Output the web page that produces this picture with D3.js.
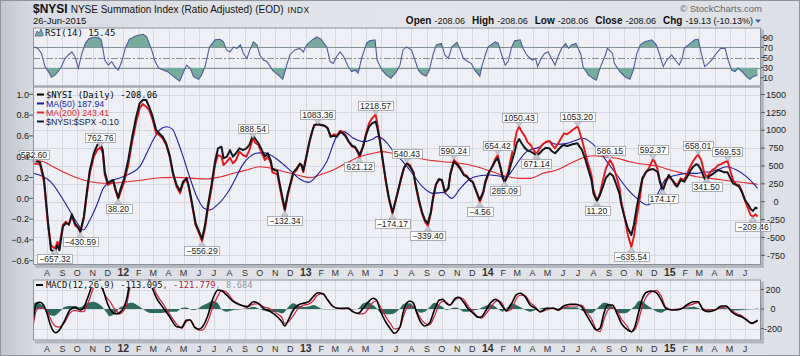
<!DOCTYPE html>
<html><head><meta charset="utf-8">
<script src="https://cdn.jsdelivr.net/npm/d3@7"></script>
<style>
html,body{margin:0;padding:0;background:#fff;}
svg{display:block;font-family:Arial,"Liberation Sans",sans-serif;}
</style></head><body>
<svg id="c" width="800" height="356"></svg>
<script>
// ---------------- DATA ----------------
const nysiDates = [
"2011-07-06","2011-07-18","2011-07-26","2011-08-03","2011-08-09","2011-08-17","2011-08-22","2011-08-26","2011-09-02","2011-09-08","2011-09-14","2011-09-20","2011-09-26","2011-10-03","2011-10-07","2011-10-14","2011-10-20","2011-10-26","2011-11-03","2011-11-10","2011-11-16","2011-11-21","2011-11-25","2011-12-01","2011-12-07","2011-12-12","2011-12-16","2011-12-22","2011-12-27",
"2012-01-03","2012-01-11","2012-01-19","2012-01-27","2012-02-03","2012-02-09","2012-02-16","2012-02-22","2012-02-29","2012-03-07","2012-03-13","2012-03-20","2012-03-27","2012-04-03","2012-04-10","2012-04-17","2012-04-24","2012-04-30","2012-05-07","2012-05-11","2012-05-18","2012-05-25","2012-06-01","2012-06-07","2012-06-13","2012-06-19","2012-06-26","2012-07-03","2012-07-09","2012-07-16","2012-07-20","2012-07-27","2012-08-02","2012-08-08","2012-08-14","2012-08-21","2012-08-28","2012-09-04","2012-09-10","2012-09-17","2012-09-21","2012-09-28","2012-10-05","2012-10-11","2012-10-17","2012-10-23","2012-10-26","2012-11-05","2012-11-09","2012-11-15","2012-11-20","2012-11-26","2012-12-03","2012-12-07","2012-12-14","2012-12-20","2012-12-24","2012-12-27",
"2013-01-02","2013-01-08","2013-01-14","2013-01-18","2013-01-25","2013-02-01","2013-02-08","2013-02-14","2013-02-20","2013-02-26","2013-03-05","2013-03-11","2013-03-15","2013-03-22","2013-03-28","2013-04-04","2013-04-10","2013-04-16","2013-04-19","2013-04-26","2013-05-02","2013-05-08","2013-05-14","2013-05-21","2013-05-24","2013-05-30","2013-06-05","2013-06-11","2013-06-17","2013-06-24","2013-06-28","2013-07-05","2013-07-11","2013-07-17","2013-07-23","2013-07-29","2013-08-05","2013-08-09","2013-08-16","2013-08-22","2013-08-28","2013-09-03","2013-09-09","2013-09-13","2013-09-19","2013-09-25","2013-10-01","2013-10-07","2013-10-14","2013-10-18","2013-10-25","2013-11-01","2013-11-08","2013-11-14","2013-11-20","2013-11-26","2013-12-02","2013-12-09","2013-12-16","2013-12-23","2013-12-27",
"2014-01-03","2014-01-10","2014-01-16","2014-01-21","2014-01-27","2014-01-31","2014-02-04","2014-02-11","2014-02-17","2014-02-24","2014-02-28","2014-03-05","2014-03-10","2014-03-17","2014-03-21","2014-03-28","2014-04-03","2014-04-09","2014-04-15","2014-04-21","2014-04-28","2014-05-05","2014-05-09","2014-05-16","2014-05-22","2014-05-28","2014-06-03","2014-06-09","2014-06-16","2014-06-20","2014-06-30","2014-07-03","2014-07-09","2014-07-15","2014-07-21","2014-07-28","2014-08-01","2014-08-08","2014-08-14","2014-08-20","2014-08-26","2014-09-03","2014-09-09","2014-09-15","2014-09-22","2014-09-26","2014-10-03","2014-10-09","2014-10-16","2014-10-21","2014-10-27","2014-11-03","2014-11-07","2014-11-14","2014-11-20","2014-11-28","2014-12-02","2014-12-08","2014-12-12","2014-12-18","2014-12-24","2014-12-30",
"2015-01-06","2015-01-12","2015-01-16","2015-01-23","2015-01-30","2015-02-05","2015-02-11","2015-02-17","2015-02-23","2015-02-27","2015-03-05","2015-03-11","2015-03-16","2015-03-20","2015-03-27","2015-04-02","2015-04-08","2015-04-14","2015-04-20","2015-04-27","2015-05-01","2015-05-08","2015-05-14","2015-05-20","2015-05-26","2015-06-01","2015-06-08","2015-06-12","2015-06-17","2015-06-22","2015-06-26"];
const nysiValues = [
532.60,523,280,-326,-606,-657.32,-560,-606,-326,-280,-326,-196,-326,-372,-430.59,-233,94,397,630,723,762.76,677,373,234,257,280,164,38.20,140,
280,513,840,1119,1307,1366,1329,1283,1143,957,933,887,793,630,373,210,117,257,318,210,-46,-326,-442,-556.29,-372,-93,187,513,653,630,513,560,616,537,583,700,653,630,723,888.54,830,793,677,583,630,537,411,383,234,24,-132.34,94,280,397,443,523,490,411,
607,816,980,1063,1083.36,1073,1063,1027,910,943,933,993,980,933,840,770,756,677,621.12,770,957,1097,1167,1218.57,1119,840,537,257,24,-174.17,-46,140,304,467,540.43,513,411,234,0,-162,-280,-339.40,-162,24,234,304,304,131,187,397,590.24,537,467,383,364,304,280,140,-4.56,117,257,
397,490,597,654.42,467,336,285.09,420,630,840,980,1050.43,980,910,840,793,723,671.14,747,803,840,849,803,747,816,887,957,943,980,1003,1053.20,1003,863,700,537,373,164,11.20,117,304,467,586.15,513,373,210,0,-233,-466,-635.54,-489,-210,94,304,411,467,592.37,560,443,304,174.17,271,350,
304,257,234,327,304,397,490,569,630,658.01,583,411,341.50,383,443,467,513,523,551,569.53,467,304,243,234,140,10,-116,-186,-209.46,-176,-208.06];
const ratioValues = [
0.36,0.346,0.19,-0.225,-0.497,-0.513,-0.45,-0.50,-0.273,-0.238,-0.25,-0.154,-0.24,-0.283,-0.32,-0.177,0.064,0.272,0.433,0.513,0.529,0.464,0.256,0.144,0.166,0.176,0.096,0.006,0.096,
0.192,0.368,0.592,0.785,0.913,0.945,0.945,0.88,0.785,0.657,0.625,0.592,0.529,0.416,0.24,0.128,0.07,0.16,0.192,0.128,-0.048,-0.24,-0.32,-0.39,-0.257,-0.064,0.128,0.352,0.48,0.496,0.385,0.4,0.464,0.4,0.433,0.48,0.464,0.48,0.513,0.609,0.577,0.529,0.464,0.4,0.433,0.359,0.282,0.263,0.16,0.015,-0.103,0.048,0.176,0.25,0.288,0.333,0.32,0.263,
0.4,0.538,0.647,0.705,0.712,0.705,0.698,0.673,0.592,0.6,0.595,0.64,0.63,0.595,0.545,0.506,0.493,0.448,0.416,0.5,0.609,0.689,0.721,0.737,0.689,0.545,0.352,0.16,0.0,-0.135,-0.064,0.07,0.192,0.294,0.336,0.304,0.25,0.144,-0.016,-0.129,-0.209,-0.24,-0.129,0.0,0.134,0.186,0.176,0.064,0.096,0.23,0.352,0.32,0.272,0.224,0.208,0.176,0.154,0.07,-0.016,0.064,0.16,
0.25,0.304,0.359,0.385,0.288,0.198,0.154,0.23,0.336,0.448,0.529,0.57,0.529,0.48,0.464,0.448,0.433,0.41,0.433,0.464,0.487,0.48,0.455,0.433,0.464,0.496,0.513,0.503,0.513,0.519,0.529,0.506,0.464,0.385,0.288,0.176,0.048,-0.026,0.032,0.112,0.198,0.24,0.217,0.144,0.048,-0.064,-0.192,-0.288,-0.353,-0.257,-0.08,0.096,0.192,0.25,0.272,0.282,0.272,0.25,0.16,0.07,0.16,0.224,
0.176,0.128,0.112,0.176,0.16,0.208,0.263,0.304,0.327,0.32,0.272,0.198,0.16,0.208,0.23,0.25,0.272,0.263,0.25,0.25,0.208,0.144,0.128,0.112,0.058,-0.016,-0.064,-0.103,-0.122,-0.09,-0.10];

const ma50Dates = [
"2011-07-05","2011-08-08","2011-09-09","2011-09-29","2011-10-13","2011-10-26","2011-11-09","2011-11-22","2011-12-05","2011-12-23",
"2012-01-09","2012-01-20","2012-02-03","2012-02-17","2012-03-01","2012-03-14","2012-03-28","2012-04-09","2012-04-17","2012-04-30","2012-05-14","2012-05-29","2012-06-11","2012-06-22","2012-07-06","2012-07-19","2012-08-02","2012-08-15","2012-08-28","2012-09-11","2012-09-24","2012-10-08","2012-10-22","2012-11-09","2012-11-30","2012-12-20",
"2013-01-07","2013-01-23","2013-02-12","2013-03-04","2013-03-18","2013-04-05","2013-04-26","2013-05-16","2013-05-24","2013-06-12","2013-06-25","2013-07-15","2013-08-05","2013-08-23","2013-09-13","2013-10-04","2013-10-21","2013-11-06","2013-11-26","2013-12-16",
"2014-01-06","2014-01-27","2014-02-07","2014-02-21","2014-03-07","2014-03-20","2014-04-16","2014-05-02","2014-05-19","2014-06-09","2014-06-27","2014-07-11","2014-07-25","2014-08-08","2014-08-28","2014-09-17","2014-10-07","2014-10-27","2014-11-17","2014-11-28","2014-12-12","2014-12-24",
"2015-01-15","2015-02-04","2015-02-24","2015-03-09","2015-03-23","2015-04-06","2015-04-24","2015-05-15","2015-06-04","2015-06-26"];
const ma50Values = [
397,280,-46,-280,-396,-256,-46,187,280,327,
373,411,490,677,863,1003,1049,1013,887,630,327,47,-93,-116,-56,38,178,350,523,630,677,686,653,569,443,318,
271,364,560,910,980,896,840,877,910,830,709,560,373,210,117,131,47,178,318,364,
373,355,346,457,597,700,770,840,803,816,859,887,840,747,560,373,187,47,-46,0,164,318,
373,397,397,411,420,443,490,443,350,187.94];

const ma200Dates = [
"2011-07-05","2011-07-25","2011-08-19","2011-09-16","2011-10-13","2011-11-09","2011-12-05",
"2012-01-09","2012-02-10","2012-03-14","2012-04-17","2012-05-21","2012-06-15","2012-07-13","2012-08-09","2012-09-04","2012-10-01","2012-10-26","2012-11-23","2012-12-20",
"2013-01-10","2013-01-29","2013-02-25","2013-03-22","2013-04-19","2013-05-16","2013-06-03","2013-06-25","2013-07-29","2013-08-30","2013-10-04","2013-11-06","2013-12-10",
"2014-01-13","2014-02-07","2014-03-07","2014-03-27","2014-04-22","2014-05-19","2014-06-16","2014-07-11","2014-07-31","2014-08-21","2014-09-17","2014-10-13","2014-11-10","2014-12-05",
"2015-01-02","2015-01-28","2015-02-24","2015-03-23","2015-04-17","2015-05-15","2015-06-11","2015-06-26"];
const ma200Values = [
583,560,467,373,304,266,257,
280,304,336,341,327,318,346,397,443,490,467,411,364,
336,373,443,537,630,677,700,677,630,588,560,537,490,
411,355,327,327,397,443,537,616,644,630,607,560,523,504,
443,397,350,327,304,280,257,243.41];

const rsiDates = [
"2011-07-06","2011-07-14","2011-07-21","2011-07-28","2011-08-04","2011-08-10","2011-08-17","2011-08-23","2011-08-30","2011-09-06","2011-09-13","2011-09-20","2011-09-26","2011-10-03","2011-10-10","2011-10-17","2011-10-24","2011-11-02","2011-11-11","2011-11-18","2011-11-25","2011-12-02","2011-12-09","2011-12-15","2011-12-22","2011-12-29",
"2012-01-05","2012-01-13","2012-01-27","2012-02-10","2012-02-17","2012-02-27","2012-03-05","2012-03-12","2012-03-22","2012-03-30","2012-04-10","2012-04-23","2012-04-30","2012-05-07","2012-05-14","2012-05-21","2012-05-31","2012-06-06","2012-06-13","2012-06-22","2012-07-03","2012-07-13","2012-07-20","2012-07-26","2012-08-02","2012-08-09","2012-08-16","2012-08-23","2012-08-29","2012-09-05","2012-09-11","2012-09-18","2012-09-25","2012-10-01","2012-10-08","2012-10-15","2012-10-22","2012-10-26","2012-11-07","2012-11-16","2012-11-23","2012-11-30","2012-12-10","2012-12-20","2012-12-27",
"2013-01-03","2013-01-14","2013-01-23","2013-02-01","2013-02-12","2013-02-19","2013-02-25","2013-03-04","2013-03-11","2013-03-18","2013-03-27","2013-04-03","2013-04-10","2013-04-16","2013-04-23","2013-05-03","2013-05-09","2013-05-20","2013-05-24","2013-06-03","2013-06-12","2013-06-21","2013-07-02","2013-07-09","2013-07-15","2013-07-22","2013-08-01","2013-08-08","2013-08-15","2013-08-22","2013-08-30","2013-09-06","2013-09-13","2013-09-20","2013-09-30","2013-10-07","2013-10-14","2013-10-21","2013-10-31","2013-11-06","2013-11-13","2013-11-22","2013-11-29","2013-12-06","2013-12-16","2013-12-20","2013-12-27",
"2014-01-02","2014-01-16","2014-01-22","2014-01-29","2014-02-05","2014-02-11","2014-02-18","2014-02-24","2014-03-07","2014-03-13","2014-03-20","2014-03-31","2014-04-07","2014-04-11","2014-04-18","2014-04-25","2014-05-02","2014-05-09","2014-05-16","2014-05-22","2014-05-29","2014-06-06","2014-06-12","2014-06-18","2014-06-27","2014-07-07","2014-07-11","2014-07-22","2014-07-31","2014-08-07","2014-08-14","2014-08-25","2014-08-29","2014-09-08","2014-09-12","2014-09-23","2014-10-03","2014-10-13","2014-10-20","2014-10-27","2014-11-03","2014-11-12","2014-11-26","2014-12-05","2014-12-12","2014-12-19","2014-12-26",
"2015-01-05","2015-01-12","2015-01-20","2015-01-26","2015-01-30","2015-02-11","2015-02-20","2015-02-27","2015-03-06","2015-03-12","2015-03-19","2015-03-26","2015-04-02","2015-04-13","2015-04-22","2015-04-28","2015-05-05","2015-05-12","2015-05-18","2015-05-26","2015-06-04","2015-06-11","2015-06-17","2015-06-26"];
const rsiValues = [
71,68,58,32,22,11,15,22,32,48,55,61,52,29,58,78,87,90,90,85,45,35,42,32,25,42,
68,86,93,96,91,65,42,29,25,22,13,3,19,35,29,12,7,15,32,71,85,86,81,65,61,71,68,75,58,48,65,81,75,55,45,42,32,25,15,7,32,55,65,68,61,
75,85,91,86,71,42,38,52,61,52,32,22,25,19,48,78,83,85,45,25,15,9,22,35,65,71,65,45,25,17,13,25,55,75,78,55,48,71,80,68,48,42,38,25,13,32,55,
71,81,78,55,35,42,71,83,85,68,55,45,48,32,48,58,61,48,35,52,68,78,68,75,78,55,32,15,9,5,29,55,68,58,38,22,12,7,25,58,75,81,85,75,55,32,45,
55,45,35,48,68,78,85,86,55,32,38,45,55,68,68,45,25,22,29,22,12,7,12,15.45];

const macdDates = [
"2011-07-05","2011-07-11","2011-07-18","2011-07-25","2011-08-01","2011-08-08","2011-08-15","2011-08-19","2011-08-26","2011-09-06","2011-09-16","2011-09-26","2011-10-06","2011-10-13","2011-10-20","2011-10-26","2011-11-02","2011-11-09","2011-11-16","2011-11-22","2011-11-29","2011-12-05","2011-12-12","2011-12-19","2011-12-23",
"2012-01-03","2012-01-09","2012-01-13","2012-01-20","2012-01-27","2012-02-03","2012-02-10","2012-02-17","2012-02-27","2012-03-08","2012-03-22","2012-04-03","2012-04-17","2012-04-27","2012-05-07","2012-05-14","2012-05-23","2012-06-01","2012-06-08","2012-06-19","2012-06-29","2012-07-09","2012-07-16","2012-07-26","2012-08-09","2012-08-23","2012-09-05","2012-09-18","2012-09-28","2012-10-08","2012-10-22","2012-11-05","2012-11-14","2012-11-20","2012-11-27","2012-12-07","2012-12-17","2012-12-27",
"2013-01-07","2013-01-16","2013-01-25","2013-02-05","2013-02-14","2013-02-25","2013-03-07","2013-03-18","2013-03-27","2013-04-05","2013-04-16","2013-04-26","2013-05-07","2013-05-16","2013-05-23","2013-05-30","2013-06-10","2013-06-19","2013-06-28","2013-07-09","2013-07-15","2013-07-22","2013-07-29","2013-08-05","2013-08-12","2013-08-19","2013-08-28","2013-09-06","2013-09-16","2013-09-26","2013-10-03","2013-10-10","2013-10-17","2013-10-28","2013-11-04","2013-11-13","2013-11-22","2013-12-03","2013-12-13","2013-12-20","2013-12-27",
"2014-01-06","2014-01-16","2014-01-22","2014-01-31","2014-02-07","2014-02-18","2014-02-27","2014-03-07","2014-03-17","2014-03-27","2014-04-07","2014-04-16","2014-04-30","2014-05-13","2014-05-22","2014-06-02","2014-06-16","2014-06-27","2014-07-08","2014-07-18","2014-07-28","2014-08-07","2014-08-14","2014-08-22","2014-08-29","2014-09-08","2014-09-17","2014-09-26","2014-10-07","2014-10-16","2014-10-23","2014-10-30","2014-11-05","2014-11-14","2014-11-25","2014-12-05","2014-12-15","2014-12-24",
"2015-01-05","2015-01-15","2015-01-26","2015-02-04","2015-02-18","2015-02-27","2015-03-09","2015-03-19","2015-04-02","2015-04-15","2015-04-24","2015-05-05","2015-05-15","2015-05-25","2015-06-04","2015-06-15","2015-06-22","2015-06-26"];
const macdValues = [
-95,58,69,41,-44,-164,-233,-243,-215,-113,-10,17,-10,7,92,178,290,350,290,190,75,5,-40,-51,-44,
24,126,246,330,380,400,390,350,229,110,7,-79,-182,-188,-113,-113,-188,-208,-182,-62,110,195,188,144,75,41,24,75,58,7,-27,-79,-130,-174,-113,-10,41,58,
75,126,167,154,92,24,7,7,7,-27,-44,7,75,110,92,-10,-130,-198,-249,-182,-44,58,82,58,-44,-130,-174,-147,-10,92,99,58,41,110,120,75,7,-44,-85,-79,-27,
58,99,85,24,-17,58,144,161,126,41,7,-27,7,7,-10,31,48,48,24,-62,-147,-215,-198,-44,41,41,-44,-147,-208,-233,-182,-44,75,167,185,167,92,7,
-10,-10,7,41,75,75,-10,-27,-10,31,31,-27,-62,-79,-113,-147,-130,-113.095];
const signalValues = [
-150,-12,14,11,-17,-100,-161,-181,-185,-135,-41,-14,-27,-28,34,110,215,285,250,180,115,80,20,-21,-51,
-11,68,184,265,335,376,390,377,269,150,45,-52,-155,-198,-128,-110,-178,-218,-217,-124,25,137,191,171,85,44,17,51,53,22,0,-49,-86,-147,-133,-68,6,38,
50,85,143,157,95,27,7,0,12,-22,-49,-51,5,70,82,28,-75,-143,-205,-189,-89,0,24,28,-29,-92,-147,-164,-75,51,79,68,41,95,115,102,34,-29,-82,-94,-58,
8,74,85,51,-22,0,103,141,136,68,17,-32,-8,10,-15,14,31,31,39,-27,-103,-212,-233,-109,-19,16,-17,-103,-170,-233,-212,-124,-10,117,175,192,130,22,
-7,0,7,26,53,65,2,-10,-7,14,21,-12,-47,-69,-108,-144,-133,-121.779];
const histValues = [
55,70,55,30,-27,-64,-72,-62,-30,22,31,31,17,35,58,68,75,65,40,10,-40,-75,-60,-30,7,
35,58,62,65,45,24,0,-27,-40,-40,-38,-27,-27,10,15,-3,-10,10,35,62,85,58,-3,-27,-10,-3,7,24,5,-15,-27,-30,-44,-27,20,58,35,20,
25,41,24,-3,-3,-3,0,7,-5,-5,5,58,70,40,10,-38,-55,-55,-44,7,45,58,58,30,-15,-38,-27,17,65,41,20,-10,0,15,5,-27,-27,-15,-3,15,31,
50,25,0,-27,5,58,41,20,-10,-27,-10,5,15,-3,5,17,17,17,-15,-35,-44,-3,35,65,60,25,-27,-44,-38,0,30,80,85,50,10,-25,-38,-15,
-3,-10,0,15,22,10,-12,-17,-3,17,10,-15,-15,-10,-5,-3,3,8.684];

// swing-point annotations on $NYSI
const labelDates = ["2011-07-06","2011-08-17","2011-10-07","2011-11-16","2011-12-22","2012-06-07","2012-09-17","2012-11-20","2013-01-25","2013-04-19","2013-05-21","2013-06-24","2013-07-23","2013-09-03","2013-10-25","2013-12-16","2014-01-21","2014-02-04","2014-03-05","2014-04-09","2014-06-30","2014-08-08","2014-09-03","2014-10-16","2014-11-28","2014-12-18","2015-02-27","2015-03-16","2015-04-27","2015-06-17"];
const labelValues = [532.60,-657.32,-430.59,762.76,38.20,-556.29,888.54,-132.34,1083.36,621.12,1218.57,-174.17,540.43,-339.40,590.24,-4.56,654.42,285.09,1050.43,671.14,1053.20,11.20,586.15,-635.54,592.37,174.17,658.01,341.50,569.53,-209.46];
const labelSides = ["up","down","down","up","down","down","up","down","up","down","up","down","up","down","up","down","up","down","up","down","up","down","up","down","up","down","up","down","up","down"];

// axis ticks
const rightTicks = [1500,1250,1000,750,500,250,0,-250,-500,-750];
const leftTicks = [1.0,0.8,0.6,0.4,0.2,0.0,-0.2,-0.4,-0.6];
const rsiTicks = [90,70,50,30,10];
const macdTicks = [200,0,-200];
const monthLetters = ["J","F","M","A","M","J","J","A","S","O","N","D"];

// ---------------- DRAW ----------------
const parse = d3.utcParse("%Y-%m-%d");
const svg = d3.select("#c");
const L = 33, R = 761;
const PANEL = "#eff0f5";
const PR = {rsi:[27.5,86.5], main:[86.5,265], macd:[279.5,340.5]};
const x = d3.scaleUtc().domain([parse("2011-07-04"), parse("2015-07-03")]).range([L, R]);
const yR = d3.scaleLinear().domain([-750,1500]).range([255.3,94.5]);
const yL = d3.scaleLinear().domain([-0.6,1.0]).range([260.7,94.3]);
const yRsi = d3.scaleLinear().domain([10,90]).range([77.7,37.3]);
const yM = d3.scaleLinear().domain([-200,200]).range([328.5,289.5]);

const pts = (ds, vs) => ds.slice(0, Math.min(ds.length, vs.length)).map((d,i)=>({d:parse(d), v:vs[i]}));

const defs = svg.append("defs");
const bg = defs.append("linearGradient").attr("id","bg").attr("x1",0).attr("x2",1).attr("y1",0).attr("y2",0);
bg.append("stop").attr("offset",0).attr("stop-color","#c2c6cf");
bg.append("stop").attr("offset",0.045).attr("stop-color","#d9dce3");
bg.append("stop").attr("offset",0.5).attr("stop-color","#e3e5ea");
bg.append("stop").attr("offset",1).attr("stop-color","#dde0e6");
svg.append("rect").attr("width",800).attr("height",356).attr("fill","url(#bg)");
svg.append("rect").attr("x",0.5).attr("y",0.5).attr("width",799).attr("height",355).attr("fill","none").attr("stroke","#8f949d");

function clip(id, top, bot){
  defs.append("clipPath").attr("id",id).append("rect").attr("x",L).attr("y",top).attr("width",R-L).attr("height",bot-top);
}
clip("cRsi", PR.rsi[0], PR.rsi[1]); clip("cMain", PR.main[0], PR.main[1]); clip("cMacd", PR.macd[0], PR.macd[1]);
defs.append("clipPath").attr("id","cAbove").append("rect").attr("x",L).attr("y",PR.rsi[0]).attr("width",R-L).attr("height",yRsi(70)-PR.rsi[0]);
defs.append("clipPath").attr("id","cBelow").append("rect").attr("x",L).attr("y",yRsi(30)).attr("width",R-L).attr("height",PR.rsi[1]-yRsi(30));

// panel backgrounds + shadows
Object.values(PR).forEach(([t,b])=>{
  svg.append("rect").attr("x",L+2).attr("y",t+2).attr("width",R-L+1).attr("height",b-t+1).attr("fill","#b4b8c1");
  svg.append("rect").attr("x",L).attr("y",t).attr("width",R-L).attr("height",b-t).attr("fill",PANEL);
});

const months = d3.utcMonth.range(parse("2011-08-01"), parse("2015-06-02"));
const grid = svg.append("g").attr("stroke","#d5d8e1").attr("stroke-width",1);
Object.values(PR).forEach(([t,b])=>{
  months.forEach(m=>{ const xx = Math.round(x(m))+0.5;
    grid.append("line").attr("x1",xx).attr("x2",xx).attr("y1",t).attr("y2",b); });
});
rightTicks.forEach(v=>{ const yy=Math.round(yR(v))+0.5;
  grid.append("line").attr("x1",L).attr("x2",R).attr("y1",yy).attr("y2",yy); });
macdTicks.forEach(v=>{ const yy=Math.round(yM(v))+0.5;
  grid.append("line").attr("x1",L).attr("x2",R).attr("y1",yy).attr("y2",yy); });
[70,30].forEach(v=>{ const yy=Math.round(yRsi(v))+0.5;
  svg.append("line").attr("x1",L).attr("x2",R).attr("y1",yy).attr("y2",yy).attr("stroke","#8a8d94").attr("stroke-width",1); });
svg.append("line").attr("x1",L).attr("x2",R).attr("y1",Math.round(yRsi(50))+0.5).attr("y2",Math.round(yRsi(50))+0.5)
  .attr("stroke","#8a8d94").attr("stroke-dasharray","7,2,2,2");

// ---- RSI ----
const rsi = pts(rsiDates, rsiValues);
const gR = svg.append("g").attr("clip-path","url(#cRsi)");
gR.append("path").datum(rsi).attr("clip-path","url(#cAbove)").attr("fill","#76ab9e")
  .attr("d", d3.area().x(d=>x(d.d)).y0(yRsi(70)).y1(d=>yRsi(d.v)));
gR.append("path").datum(rsi).attr("clip-path","url(#cBelow)").attr("fill","#76ab9e")
  .attr("d", d3.area().x(d=>x(d.d)).y0(yRsi(30)).y1(d=>yRsi(d.v)));
gR.append("path").datum(rsi).attr("fill","none").attr("stroke","#4d5c9c").attr("stroke-width",1.1)
  .attr("d", d3.line().x(d=>x(d.d)).y(d=>yRsi(d.v)));

// ---- MAIN ----
const gM = svg.append("g").attr("clip-path","url(#cMain)");
const smooth = d3.line().x(d=>x(d.d)).y(d=>yR(d.v)).curve(d3.curveMonotoneX);
gM.append("path").datum(pts(ma200Dates, ma200Values)).attr("fill","none").attr("stroke","#e3262b").attr("stroke-width",1.1).attr("d",smooth);
gM.append("path").datum(pts(ma50Dates, ma50Values)).attr("fill","none").attr("stroke","#1c1ca0").attr("stroke-width",1.1).attr("d",smooth);
gM.append("path").datum(pts(nysiDates, nysiValues)).attr("fill","none").attr("stroke","#e8161b").attr("stroke-width",1.9).attr("stroke-linejoin","round")
  .attr("d", d3.line().x(d=>x(d.d)).y(d=>yR(d.v)));
gM.append("path").datum(pts(nysiDates, ratioValues)).attr("fill","none").attr("stroke","#15161c").attr("stroke-width",2).attr("stroke-linejoin","round")
  .attr("d", d3.line().x(d=>x(d.d)).y(d=>yL(d.v)));

// swing labels
const gLab = svg.append("g").attr("font-size","8.6px").attr("fill","#222");
labelDates.forEach((ds,i)=>{
  const px = x(parse(ds)), py = yR(labelValues[i]);
  const up = labelSides[i]==="up";
  const g = gLab.append("g");
  const tri = up ? [[px-3.5,py-5],[px+3.5,py-5],[px,py]] : [[px-3.5,py+5],[px+3.5,py+5],[px,py]];
  g.append("path").attr("d","M"+tri.map(p=>p.join(",")).join("L")+"Z").attr("fill","#c9ccd3").attr("stroke","#9a9ea6").attr("stroke-width",0.6);
  const box = g.append("rect");
  const t = g.append("text").attr("text-anchor","middle").text(d3.format(".2f")(labelValues[i]));
  const w = t.node().getComputedTextLength()+4, h = 9;
  const by = up ? py-5-h : py+5;
  box.attr("x",Math.round(px-w/2)+0.5).attr("y",Math.round(by)+0.5).attr("width",Math.round(w)).attr("height",h)
    .attr("fill","#fff").attr("stroke","#9a9ea6").attr("stroke-width",0.8);
  t.attr("x",px).attr("y",Math.round(by)+8);
});

// ---- MACD ----
const gD = svg.append("g").attr("clip-path","url(#cMacd)");
gD.append("path").datum(pts(macdDates, histValues)).attr("fill","#2e6b5f")
  .attr("d", d3.area().x(d=>x(d.d)).y0(yM(0)).y1(d=>yM(d.v)).curve(d3.curveMonotoneX));
gD.append("path").datum(pts(macdDates, signalValues)).attr("fill","none").attr("stroke","#cc1f3d").attr("stroke-width",1.2)
  .attr("d", d3.line().x(d=>x(d.d)).y(d=>yM(d.v)).curve(d3.curveMonotoneX));
gD.append("path").datum(pts(macdDates, macdValues)).attr("fill","none").attr("stroke","#000").attr("stroke-width",1.6)
  .attr("d", d3.line().x(d=>x(d.d)).y(d=>yM(d.v)).curve(d3.curveMonotoneX));

// MACD legend band (opaque, as in the source)
const mono = "'DejaVu Sans Mono','Liberation Mono',monospace";
const band = svg.append("rect").attr("fill",PANEL);
const mt = svg.append("text").attr("x",46).attr("y",288).attr("font-family",mono).attr("font-size","8.8px");
mt.append("tspan").attr("fill","#111").text("MACD(12,26,9) -113.095");
mt.append("tspan").attr("fill","#b3233c").text(", -121.779");
mt.append("tspan").attr("fill","#8a98a8").text(", 8.684");
const mw = mt.node().getComputedTextLength();
band.attr("x",L+1).attr("y",PR.macd[0]+1).attr("width",46+mw+2-(L+1)).attr("height",7.5);
svg.append("line").attr("x1",36).attr("x2",43).attr("y1",285).attr("y2",285).attr("stroke","#000").attr("stroke-width",2);

// panel borders
Object.values(PR).forEach(([t,b])=>{
  svg.append("rect").attr("x",L+0.5).attr("y",t+0.5).attr("width",R-L-1).attr("height",b-t-1).attr("fill","none").attr("stroke","#8c9099");
});

// ---- axes text ----
const ax = svg.append("g").attr("font-size","9px").attr("fill","#222");
rightTicks.forEach(v=>{ const yy=yR(v);
  ax.append("line").attr("x1",R).attr("x2",R+4).attr("y1",yy).attr("y2",yy).attr("stroke","#555");
  ax.append("text").attr("x",776).attr("y",yy+3.2).attr("text-anchor","middle").text(v); });
leftTicks.forEach(v=>{ const yy=yL(v);
  ax.append("line").attr("x1",L-4).attr("x2",L).attr("y1",yy).attr("y2",yy).attr("stroke","#555");
  ax.append("text").attr("x",29).attr("y",yy+3.2).attr("text-anchor","end").text(d3.format(".1f")(v)); });
rsiTicks.forEach(v=>{ const yy=yRsi(v);
  ax.append("line").attr("x1",R).attr("x2",R+3).attr("y1",yy).attr("y2",yy).attr("stroke","#555");
  ax.append("text").attr("x",768).attr("y",yy+3.2).attr("text-anchor","middle").text(v); });
macdTicks.forEach(v=>{ const yy=yM(v);
  ax.append("line").attr("x1",R).attr("x2",R+3).attr("y1",yy).attr("y2",yy).attr("stroke","#555");
  ax.append("text").attr("x",773).attr("y",yy+3.2).attr("text-anchor","middle").text(v); });
[276, 351.5].forEach(by=>{
  months.forEach(m=>{
    const jan = m.getUTCMonth()===0;
    ax.append("text").attr("x",x(m)).attr("y",by).attr("text-anchor","middle")
      .attr("font-weight", jan ? "bold" : "normal").attr("font-size", jan ? "10.5px" : "9px").attr("fill","#333")
      .text(jan ? String(m.getUTCFullYear()).slice(2) : monthLetters[m.getUTCMonth()]);
  });
});

// ---- titles ----
const tt = svg.append("text").attr("x",33).attr("y",13).attr("fill","#111");
tt.append("tspan").attr("font-weight","bold").attr("font-size","12px").text("$NYSI");
tt.append("tspan").attr("font-size","10px").attr("dx",3).text("NYSE Summation Index (Ratio Adjusted) (EOD)");
tt.append("tspan").attr("font-size","8.5px").attr("dx",4).attr("letter-spacing","0.4").text("INDX");
svg.append("text").attr("x",33).attr("y",23.5).attr("font-size","9.5px").attr("fill","#111").text("26-Jun-2015");
svg.append("text").attr("x",762).attr("y",12).attr("text-anchor","end").attr("font-size","9.5px").attr("fill","#666").text("\u00A9 StockCharts.com");
const oh = svg.append("text").attr("x",753).attr("y",24).attr("text-anchor","end").attr("fill","#111");
[["Open","-208.06"],["High","-208.06"],["Low","-208.06"],["Close","-208.06"],["Chg","-19.13 (-10.13%)"]].forEach(([k,v],i)=>{
  oh.append("tspan").attr("font-weight","bold").attr("font-size","10px").attr("dx", i? 7:0).text(k);
  oh.append("tspan").attr("font-size","9px").attr("dx",3).text(v);
});
svg.append("path").attr("d","M755,19.5L761,19.5L758,23Z").attr("fill","#4a5a8a");

// ---- legends ----
svg.append("path").attr("d","M35,36L37,31L39,33L41,29L43,34L43,36Z").attr("fill","#76ab9e").attr("stroke","#4d5c9c").attr("stroke-width",0.8);
svg.append("text").attr("x",45).attr("y",35.5).attr("font-family",mono).attr("font-size","9px").attr("fill","#111").text("RSI(14) 15.45");
const leg = [
  {t:"$NYSI (Daily) -208.06", c:"#000", f:mono, y:97.5},
  {t:"MA(50) 187.94", c:"#1c1ca0", f:null, y:106.5},
  {t:"MA(200) 243.41", c:"#e3262b", f:null, y:115.5},
  {t:"$NYSI:$SPX -0.10", c:"#1a1c3a", f:null, y:124.5}];
leg.forEach(l=>{
  svg.append("line").attr("x1",37).attr("x2",44).attr("y1",l.y-3).attr("y2",l.y-3).attr("stroke",l.c).attr("stroke-width",2);
  const t = svg.append("text").attr("x",46).attr("y",l.y).attr("font-size","8.8px").attr("fill",l.c).text(l.t);
  if (l.f) t.attr("font-family", l.f);
});
</script>
</body></html>
